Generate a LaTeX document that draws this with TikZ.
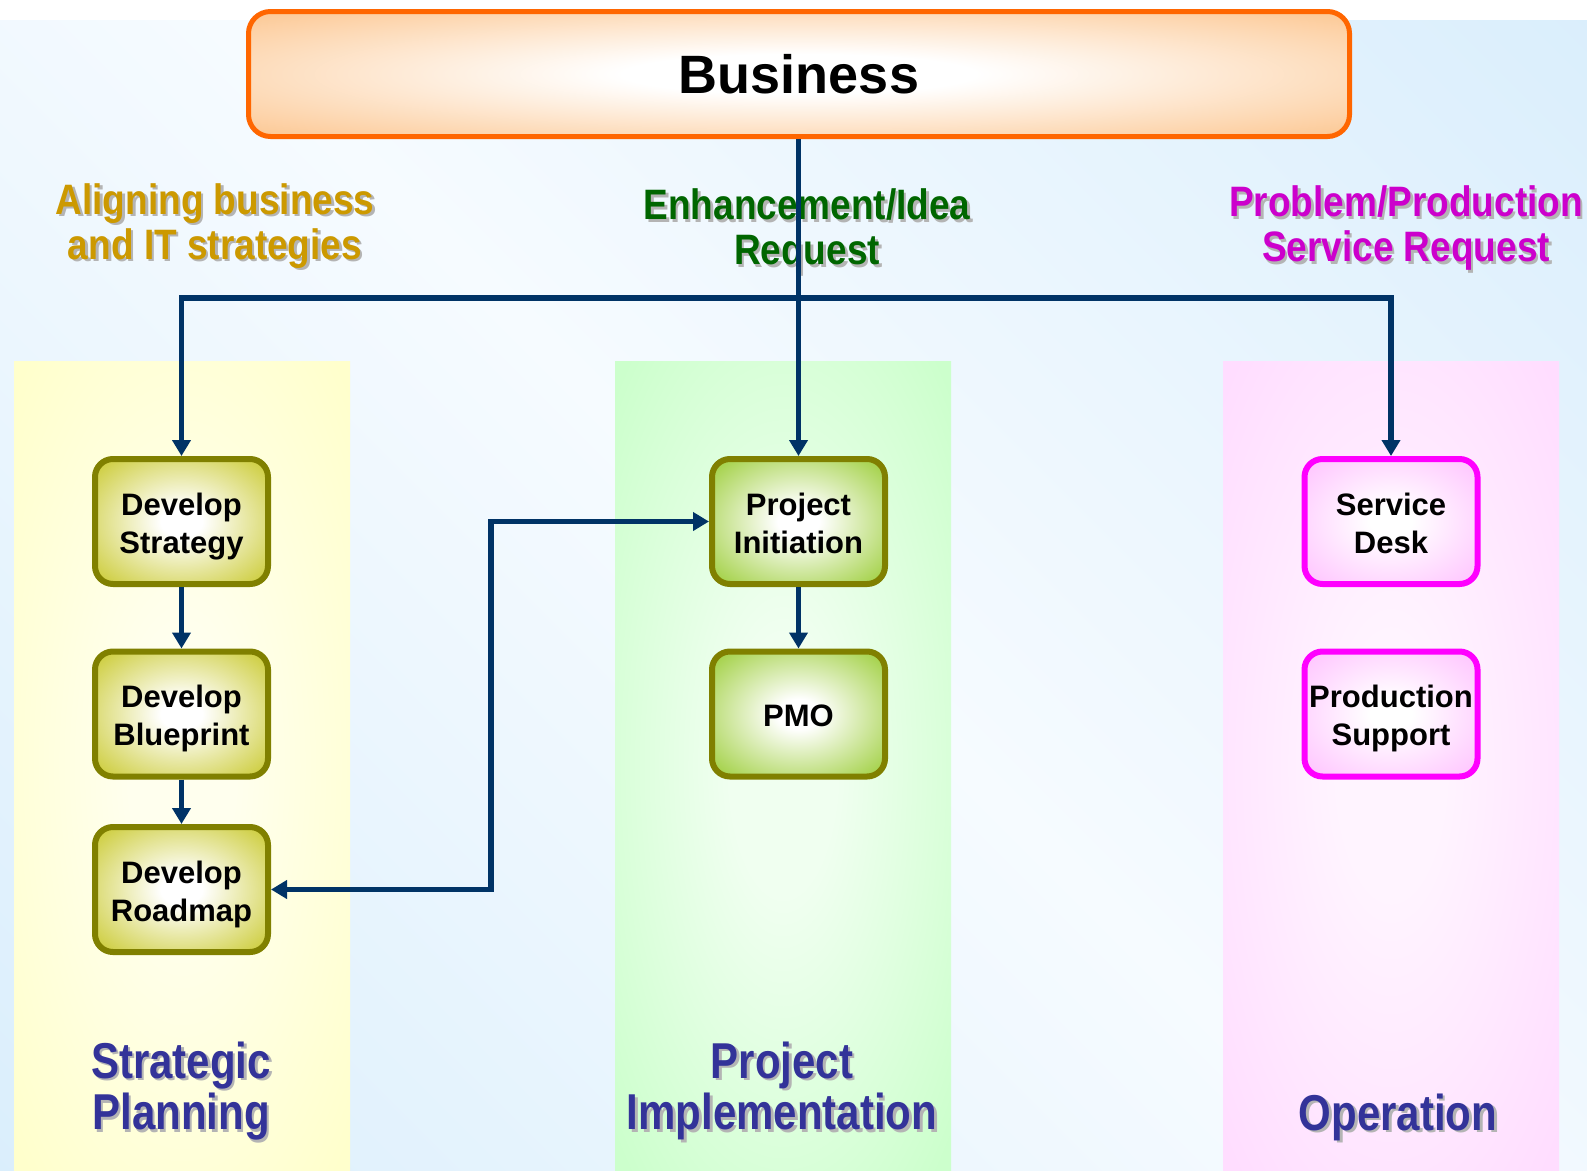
\documentclass[tikz,border=0pt]{standalone}
\usepackage{fontspec}
\setmainfont{Liberation Sans}
\usepackage{graphicx}
\usetikzlibrary{arrows.meta}
\definecolor{bgblue}{HTML}{CFE9FB}
\definecolor{bgwhite}{HTML}{F6FBFF}
\definecolor{bandY}{HTML}{FFFFCC}
\definecolor{bandYc}{HTML}{FFFFEE}
\definecolor{bandG}{HTML}{CCFFCC}
\definecolor{bandGc}{HTML}{F0FFF0}
\definecolor{bandP}{HTML}{FFDDFF}
\definecolor{bandPc}{HTML}{FFF4FF}
\definecolor{peach}{HTML}{FCC690}
\definecolor{orangeb}{HTML}{FF6600}
\definecolor{boxY}{HTML}{C8C82A}
\definecolor{boxG}{HTML}{99CC33}
\definecolor{boxP}{HTML}{FFC0FF}
\definecolor{oliveb}{HTML}{808000}
\definecolor{magb}{HTML}{FF00FF}
\definecolor{navyc}{HTML}{003366}
\definecolor{goldc}{HTML}{CC9900}
\definecolor{dgreen}{HTML}{006600}
\definecolor{magc}{HTML}{CC00CC}
\definecolor{colblue}{HTML}{333399}
\definecolor{shadowgray}{HTML}{B4B4B4}
\pgfdeclareverticalshading{bgsh}{100bp}{color(0bp)=(bgblue); color(50bp)=(bgwhite); color(100bp)=(bgblue)}
\pgfdeclareradialshading{glowY}{\pgfpoint{0bp}{0bp}}{color(0bp)=(white); color(6bp)=(white); color(36bp)=(boxY); color(71bp)=(boxY)}
\pgfdeclareradialshading{glowG}{\pgfpoint{0bp}{0bp}}{color(0bp)=(white); color(6bp)=(white); color(36bp)=(boxG); color(71bp)=(boxG)}
\pgfdeclareradialshading{glowP}{\pgfpoint{0bp}{0bp}}{color(0bp)=(white); color(6bp)=(white); color(36bp)=(boxP); color(71bp)=(boxP)}
\pgfdeclareradialshading{glowBiz}{\pgfpoint{0bp}{0bp}}{color(0bp)=(white); color(8bp)=(white); color(36bp)=(peach); color(71bp)=(peach)}
\pgfdeclareradialshading{bandshY}{\pgfpoint{0bp}{0bp}}{color(0bp)=(bandYc); color(8bp)=(bandYc); color(34bp)=(bandY); color(71bp)=(bandY)}
\pgfdeclareradialshading{bandshG}{\pgfpoint{0bp}{0bp}}{color(0bp)=(bandGc); color(8bp)=(bandGc); color(34bp)=(bandG); color(71bp)=(bandG)}
\pgfdeclareradialshading{bandshP}{\pgfpoint{0bp}{0bp}}{color(0bp)=(bandPc); color(8bp)=(bandPc); color(34bp)=(bandP); color(71bp)=(bandP)}
\newcommand{\vstrA}[1]{\scalebox{1}[1.15]{#1}}
\newcommand{\vstrB}[1]{\scalebox{1}[1.2]{#1}}
\newcommand{\twol}[2]{\rule{0pt}{30pt}\smash{#1}\\\smash{#2}\rule[-5pt]{0pt}{5pt}}
\newcommand{\onel}[1]{\rule[-5pt]{0pt}{35pt}\smash{#1}}
\newcommand{\shlabel}[5]{%
  \node[#4, text=shadowgray, xshift=2.5pt, yshift=-2.5pt] (#1s) at (#2,#3) {#5};
  \node[#4] (#1) at (#2,#3) {#5};}
\begin{document}
\begin{tikzpicture}[x=1pt, y=-1pt,
  boxbase/.style={rectangle, rounded corners=18pt, line width=6pt, minimum width=173pt, minimum height=125pt, inner sep=0pt, align=center, font=\fontsize{31}{38}\selectfont\bfseries, text=black, shade},
  ybox/.style={boxbase, draw=oliveb, shading=glowY},
  gbox/.style={boxbase, draw=oliveb, shading=glowG},
  pbox/.style={boxbase, draw=magb, shading=glowP},
  hdr/.style={font=\fontsize{37}{45}\selectfont\bfseries, align=center, inner sep=0pt},
  coll/.style={font=\fontsize{42}{51.6}\selectfont\bfseries, align=center, inner sep=0pt, text=colblue},
  conn/.style={draw=navyc, line width=5.5pt, -{Triangle[width=18pt,length=16pt]}},
  conntwo/.style={draw=navyc, line width=5.5pt, {Triangle[width=18pt,length=16pt]}-{Triangle[width=18pt,length=16pt]}}
]
\useasboundingbox (0,0) rectangle (1587,1170);
\fill[white] (0,0) rectangle (1587,1170);
\shade[shading=bgsh, shading angle=-45] (0,20) rectangle (1587,1170);
% column bands
\shade[shading=bandshY] (14,361) rectangle (350,1170);
\shade[shading=bandshG] (615,361) rectangle (951,1170);
\shade[shading=bandshP] (1223,361) rectangle (1559,1170);
% header labels
\shlabel{alig}{215}{226}{hdr, text=goldc}{\vstrA{Aligning business}\\\vstrA{and IT strategies}}
\shlabel{enh}{807}{231}{hdr, text=dgreen}{\vstrA{Enhancement/Idea}\\\vstrA{Request}}
\shlabel{prob}{1406}{228}{hdr, text=magc}{\vstrA{Problem/Production}\\\vstrA{Service Request}}
% column labels
\shlabel{strat}{181}{1091}{coll}{\vstrB{Strategic}\\\vstrB{Planning}}
\shlabel{proj}{782}{1091}{coll}{\vstrB{Project}\\\vstrB{Implementation}}
\shlabel{oper}{1398}{1117}{coll}{\vstrB{Operation}}
% business
\node[rectangle, rounded corners=22pt, line width=5pt, draw=orangeb, shade, shading=glowBiz, minimum width=1101pt, minimum height=125pt, inner sep=0pt, font=\fontsize{54}{60}\selectfont\bfseries] (biz) at (799,74) {Business};
% boxes
\node[ybox] (ds) at (181.5,521.5) {\twol{Develop}{Strategy}};
\node[ybox] (db) at (181.5,714) {\twol{Develop}{Blueprint}};
\node[ybox] (dr) at (181.5,889.5) {\twol{Develop}{Roadmap}};
\node[gbox] (pi) at (798.5,521.5) {\twol{Project}{Initiation}};
\node[gbox] (pmo) at (798.5,714) {\onel{PMO}};
\node[pbox] (sd) at (1391,521.5) {\twol{Service}{Desk}};
\node[pbox] (ps) at (1391,714) {\twol{Production}{Support}};
% connectors
\coordinate (hub) at (798.5,298);
\coordinate (bend) at (491,600);
\draw[conn] (biz.south -| pi.north) -- (pi.north);
\draw[conn] (hub) -| (ds.north);
\draw[conn] (hub) -| (sd.north);
\draw[conn] (ds.south) -- (db.north);
\draw[conn] (db.south) -- (dr.north);
\draw[conn] (pi.south) -- (pmo.north);
\draw[conntwo] (dr.east) -| (bend |- pi.west) -- (pi.west);
\end{tikzpicture}
\end{document}
